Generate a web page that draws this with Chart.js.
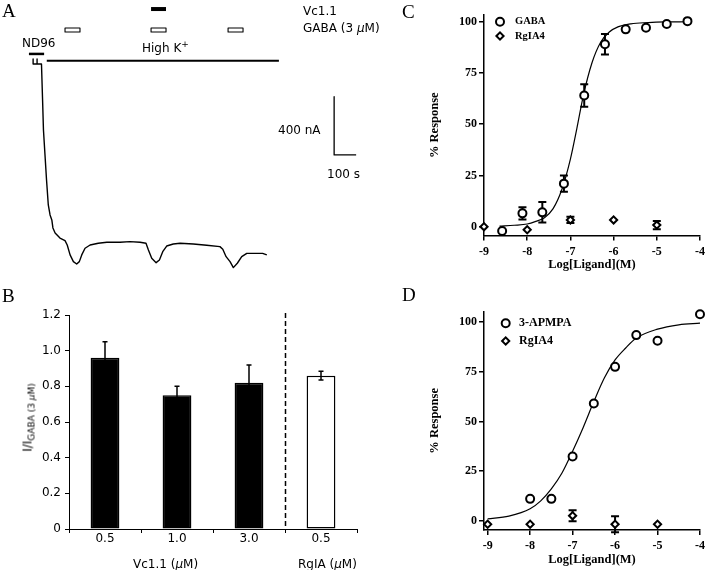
<!DOCTYPE html>
<html>
<head>
<meta charset="utf-8">
<script src="https://cdn.jsdelivr.net/npm/chart.js@4.4.1/dist/chart.umd.min.js"></script>
<style>
body { margin: 0; background: #fff; }
#fig { position: relative; width: 709px; height: 570px; overflow: hidden; background: #fff; }
canvas { position: absolute; }
.t { position: absolute; font-family: "DejaVu Sans", sans-serif; font-size: 12px; line-height: 12px; color: #000; white-space: nowrap; }
.lab { position: absolute; font-family: "Liberation Serif", serif; font-size: 19px; line-height: 19px; color: #000; }
</style>
</head>
<body>
<div id="fig">
  <canvas id="cA" width="370" height="280" style="left:0;top:0"></canvas>
  <canvas id="cB" width="360" height="290" style="left:0;top:280px"></canvas>
  <canvas id="cC" width="349" height="280" style="left:360px;top:0"></canvas>
  <canvas id="cD" width="349" height="290" style="left:360px;top:280px"></canvas>

  <div class="lab" style="left:2px;top:1px">A</div>
  <div class="lab" style="left:2px;top:286px">B</div>
  <div class="lab" style="left:402px;top:2px">C</div>
  <div class="lab" style="left:402px;top:285px">D</div>

  <div class="t" style="left:303px;top:5px">Vc1.1</div>
  <div class="t" style="left:303px;top:22px">GABA (3 <i>μ</i>M)</div>
  <div class="t" style="left:22px;top:37px">ND96</div>
  <div class="t" style="left:142px;top:42px">High K<span style="font-size:9px;position:relative;top:-5px">+</span></div>
  <div class="t" style="left:278px;top:124px">400 nA</div>
  <div class="t" style="left:327px;top:168px">100 s</div>

  <div class="t" style="left:-32px;top:411px;width:120px;text-align:center;transform:rotate(-90deg)">I/I<span style="font-size:9px;position:relative;top:3px">GABA (3 <i>μ</i>M)</span></div>
  <div class="t" style="left:133px;top:558px">Vc1.1 (<i>μ</i>M)</div>
  <div class="t" style="left:298px;top:558px">RgIA (<i>μ</i>M)</div>
</div>
<script>
// panel A: current trace (time in s, current in nA)
const traceT = [5, 5, 23, 23, 23, 43, 48, 52, 59, 66, 74, 82, 90, 95, 105, 127, 150, 160, 173, 188, 203, 215, 226, 241, 264, 301, 340, 400, 445, 491, 518, 529, 544, 564, 579, 594, 612, 642, 673, 733, 794, 854, 867, 882, 900, 915, 933, 953, 976, 1021, 1048, 1067];
const traceI = [34, 0, 0, 34, 0, 0, -247, -453, -624, -796, -967, -1036, -1070, -1125, -1159, -1194, -1212, -1242, -1310, -1356, -1372, -1356, -1310, -1264, -1242, -1230, -1223, -1223, -1219, -1223, -1230, -1276, -1333, -1363, -1345, -1288, -1249, -1235, -1230, -1235, -1244, -1253, -1271, -1322, -1356, -1397, -1367, -1322, -1299, -1299, -1299, -1310];
const nd96 = [-14, 55];
const highK = [67, 1122];
const gabaOn = [150, 541, 891];
const gabaOff = [218, 609, 959];
const vc11On = [541];
const vc11Off = [609];
const barT = 100;   // s
const barI = 400;   // nA

// panel B
const doseLabels = ['0.5', '1.0', '3.0', '0.5'];
const ratioMean = [0.96, 0.75, 0.82, 0.86];
const ratioErr = [0.09, 0.05, 0.10, 0.025];

// panel C
const gabaX = [-8.58, -8.11, -7.65, -7.15, -6.68, -6.2, -5.72, -5.25, -4.77, -4.29];
const gabaY = [-2.1, 6.5, 7, 21, 64, 89, 96.3, 97.1, 98.9, 100.3];
const gabaErr = [0, 3, 5, 4, 5.5, 5, 0, 0, 0, 0];
const rgiaCX = [-9, -8, -7, -6, -5];
const rgiaCY = [0, -1.5, 3.3, 3.3, 0.8];
const rgiaCErr = [0, 0, 1.5, 0, 2];
const fitCX = [-8.64, -8.3, -8.0, -7.8, -7.6, -7.4, -7.2, -7.0, -6.85, -6.7, -6.5, -6.3, -6.1, -5.9, -5.6, -5.2, -4.8, -4.3];
const fitCY = [0.3, 0.7, 1.3, 2.6, 4.4, 8.8, 18, 33, 48, 64, 80, 90, 95, 97.5, 99, 99.6, 99.9, 100];

// panel D
const apmpaX = [-8, -7.5, -7, -6.5, -6, -5.5, -5, -4];
const apmpaY = [11, 11, 32.3, 59, 77.5, 93.5, 90.7, 104];
const rgiaDX = [-9, -8, -7, -6, -5];
const rgiaDY = [-1.8, -1.8, 2.5, -1.8, -1.8];
const rgiaDErr = [0, 0, 2.8, 4, 0];
const fitDX = [-9, -8.5, -8, -7.75, -7.5, -7.25, -7, -6.75, -6.5, -6.25, -6, -5.75, -5.5, -5, -4.5, -4];
const fitDY = [0.9, 2.3, 6, 10, 16, 24, 35, 47, 60, 72, 81, 87, 92, 96.5, 98.7, 99.5];

const logTicks = [-9, -8, -7, -6, -5, -4];
const pctTicks = [0, 25, 50, 75, 100];

Chart.defaults.color = '#000';
Chart.defaults.font.family = '"DejaVu Sans", sans-serif';
Chart.defaults.animation = false;

const pts = (xs, ys) => xs.map((x, k) => ({ x: x, y: ys[k] }));
const serifBold = size => ({ family: '"Liberation Serif", serif', size: size, weight: 'bold' });

function drawErrors(chart, opts) {
  const ctx = chart.ctx;
  const ys = chart.scales.y;
  chart.data.datasets.forEach((ds, i) => {
    if (!ds.errorBars) return;
    chart.getDatasetMeta(i).data.forEach((el, k) => {
      const e = ds.errorBars[k];
      if (!e) return;
      const d = ds.data[k];
      const v = typeof d === 'object' ? d.y : d;
      const top = ys.getPixelForValue(v + e);
      const bot = ys.getPixelForValue(v - e);
      ctx.save();
      ctx.strokeStyle = '#000';
      ctx.lineWidth = opts.width;
      ctx.beginPath();
      ctx.moveTo(el.x, top); ctx.lineTo(el.x, bot);
      ctx.moveTo(el.x - opts.cap, top); ctx.lineTo(el.x + opts.cap, top);
      ctx.moveTo(el.x - opts.cap, bot); ctx.lineTo(el.x + opts.cap, bot);
      ctx.stroke();
      ctx.restore();
    });
  });
}

const errorBars = {
  id: 'errorBars',
  beforeDatasetsDraw(chart, args, opts) { if (!opts.front) drawErrors(chart, opts); },
  afterDatasetsDraw(chart, args, opts) { if (opts.front) drawErrors(chart, opts); }
};

const divider = {
  id: 'divider',
  afterDatasetsDraw(chart, args, opts) {
    if (opts.after === undefined) return;
    const x = chart.scales.x;
    const a = chart.chartArea;
    const px = Math.round((x.getPixelForValue(opts.after) + x.getPixelForValue(opts.after + 1)) / 2) + 0.5;
    const ctx = chart.ctx;
    ctx.save();
    ctx.strokeStyle = '#000';
    ctx.lineWidth = 1.5;
    ctx.setLineDash([5, 3]);
    ctx.beginPath();
    ctx.moveTo(px, a.top - 2);
    ctx.lineTo(px, a.bottom);
    ctx.stroke();
    ctx.restore();
  }
};

const key = {
  id: 'key',
  afterDraw(chart, args, opts) {
    if (!opts.items) return;
    const ctx = chart.ctx;
    const a = chart.chartArea;
    opts.items.forEach((idx, i) => {
      const ds = chart.data.datasets[idx];
      const x = a.left + opts.dx;
      const y = a.top + opts.dy + i * opts.gap;
      ctx.save();
      ctx.strokeStyle = '#000';
      ctx.fillStyle = '#fff';
      ctx.lineWidth = ds.borderWidth;
      Chart.helpers.drawPoint(ctx, { pointStyle: ds.pointStyle, radius: ds.pointRadius, borderWidth: ds.borderWidth, rotation: 0 }, x, y);
      ctx.fillStyle = '#000';
      ctx.font = 'bold ' + opts.size + 'px "Liberation Serif", serif';
      ctx.textBaseline = 'middle';
      ctx.fillText(ds.label, x + opts.tx, y);
      ctx.restore();
    });
  }
};

Chart.register(errorBars, divider, key);

// ---------- A ----------
const line = (data, w) => ({ data: data, showLine: true, borderColor: '#000', backgroundColor: '#000', borderWidth: w, pointRadius: 0, tension: 0, borderJoinStyle: 'round', clip: false });
const box = (t0, t1, lo, hi) => [{ x: t0, y: lo }, { x: t1, y: lo }, { x: t1, y: hi }, { x: t0, y: hi }, { x: t0, y: lo }];

const dsA = [
  line(pts(traceT, traceI), 1.4),
  line([{ x: highK[0], y: 23 }, { x: highK[1], y: 23 }], 2),
  line([{ x: nd96[0], y: 69 }, { x: nd96[1], y: 69 }], 2.5)
];
gabaOn.forEach((t, k) => dsA.push(line(box(t, gabaOff[k], 219, 247), 1.1)));
vc11On.forEach((t, k) => dsA.push(line([{ x: t, y: 377 }, { x: vc11Off[k], y: 377 }], 4)));
dsA.push(line([{ x: 1373, y: -624 + barI }, { x: 1373, y: -624 }, { x: 1373 + barT, y: -624 }], 1.3));

new Chart(document.getElementById('cA'), {
  type: 'scatter',
  data: { datasets: dsA },
  options: {
    responsive: false,
    devicePixelRatio: 1,
    layout: { padding: 0 },
    plugins: { legend: { display: false }, tooltip: { enabled: false } },
    scales: {
      x: { type: 'linear', display: false, min: -145.5, max: 1536 },
      y: { display: false, min: -1482, max: 439 }
    }
  }
});

// ---------- B ----------
new Chart(document.getElementById('cB'), {
  type: 'bar',
  data: {
    labels: doseLabels,
    datasets: [{
      data: ratioMean,
      errorBars: ratioErr,
      backgroundColor: ['#000', '#000', '#000', '#fff'],
      borderColor: '#000',
      borderWidth: 1.5,
      borderSkipped: false,
      barPercentage: 0.4,
      categoryPercentage: 1.0
    }]
  },
  options: {
    responsive: false,
    devicePixelRatio: 1,
    layout: { padding: { top: 35, right: 3, left: 0, bottom: 0 } },
    plugins: {
      legend: { display: false },
      tooltip: { enabled: false },
      errorBars: { front: true, width: 1.5, cap: 2.5 },
      divider: { after: 2 }
    },
    scales: {
      x: {
        afterFit: s => { s.height = 41; },
        grid: { drawOnChartArea: false, color: '#000', tickLength: 4, offset: true },
        border: { color: '#000', width: 1 },
        ticks: { font: { size: 12, lineHeight: 1 }, padding: 0 }
      },
      y: {
        min: 0, max: 1.2,
        afterFit: s => { s.width = 69; },
        grid: { drawOnChartArea: false, color: '#000', tickLength: 4 },
        border: { color: '#000', width: 1 },
        ticks: { stepSize: 0.2, padding: 4, font: { size: 12 }, callback: v => v === 0 ? '0' : v.toFixed(1) }
      }
    }
  }
});

// ---------- C / D ----------
function doseChart(id, cfg) {
  return new Chart(document.getElementById(id), {
    type: 'scatter',
    data: {
      datasets: [
        { label: cfg.name, data: cfg.agonist, errorBars: cfg.agonistErr, pointStyle: 'circle', pointRadius: 4, borderWidth: 2, borderColor: '#000', backgroundColor: '#fff', clip: false },
        { label: 'RgIA4', data: cfg.rgia, errorBars: cfg.rgiaErr, pointStyle: 'rectRot', pointRadius: 3.6, borderWidth: 2, borderColor: '#000', backgroundColor: '#fff', clip: false },
        { label: 'fit', data: cfg.fit, showLine: true, pointRadius: 0, borderWidth: 1.2, borderColor: '#000', cubicInterpolationMode: 'monotone', clip: false }
      ]
    },
    options: {
      responsive: false,
      devicePixelRatio: 1,
      layout: { padding: cfg.pad },
      plugins: {
        legend: { display: false },
        tooltip: { enabled: false },
        errorBars: { front: false, width: 2, cap: 4 },
        key: cfg.key
      },
      scales: {
        x: {
          type: 'linear', min: cfg.xmin, max: -4,
          afterFit: s => { s.height = cfg.xh; },
          afterBuildTicks: s => { s.ticks = logTicks.map(v => ({ value: v })); },
          grid: { drawOnChartArea: false, color: '#000', lineWidth: 1.5, tickLength: 5 },
          border: { color: '#000', width: 1.5 },
          ticks: { font: serifBold(12), padding: 4, maxRotation: 0, autoSkip: false },
          title: { display: true, text: 'Log[Ligand](M)', font: serifBold(12.5), padding: { top: 0, bottom: cfg.xtp } }
        },
        y: {
          min: cfg.ymin, max: cfg.ymax,
          afterFit: s => { s.width = 124; },
          afterBuildTicks: s => { s.ticks = pctTicks.map(v => ({ value: v })); },
          grid: { drawOnChartArea: false, color: '#000', lineWidth: 1.5, tickLength: 5 },
          border: { color: '#000', width: 1.5 },
          ticks: { font: serifBold(12), padding: 2 },
          title: { display: true, text: '% Response', font: serifBold(12.5), padding: { top: 67.5, bottom: 0 } }
        }
      }
    }
  });
}

doseChart('cC', {
  name: 'GABA',
  agonist: pts(gabaX, gabaY), agonistErr: gabaErr,
  rgia: pts(rgiaCX, rgiaCY), rgiaErr: rgiaCErr,
  fit: pts(fitCX, fitCY),
  xmin: -9, ymin: -4.3, ymax: 103.3,
  pad: { top: 15, right: 7, left: 0, bottom: 0 }, xh: 44.5, xtp: 7.5,
  key: { items: [0, 1], dx: 16, dy: 6.7, gap: 14.3, tx: 15, size: 10.5 }
});

doseChart('cD', {
  name: '3-APMPA',
  agonist: pts(apmpaX, apmpaY), agonistErr: null,
  rgia: pts(rgiaDX, rgiaDY), rgiaErr: rgiaDErr,
  fit: pts(fitDX, fitDY),
  xmin: -9.086, ymin: -4.7, ymax: 105.3,
  pad: { top: 31.7, right: 7.3, left: 0, bottom: 0 }, xh: 40, xtp: 2.5,
  key: { items: [0, 1], dx: 21.7, dy: 11.6, gap: 17.7, tx: 13.3, size: 12 }
});
</script>
</body>
</html>
